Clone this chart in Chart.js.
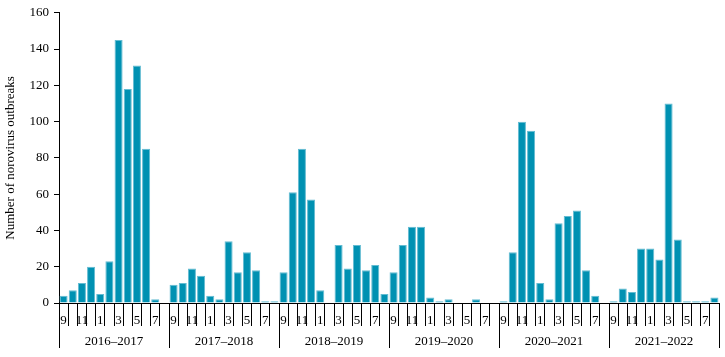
<!DOCTYPE html>
<html>
<head>
<meta charset="utf-8">
<script src="https://cdn.jsdelivr.net/npm/chart.js@4"></script>
<style>
  html, body { margin: 0; padding: 0; background: #fff; }
  #wrap { width: 725px; height: 357px; }
</style>
</head>
<body>
<div id="wrap"><canvas id="chart"></canvas></div>
<script>
// months of a season, Sep -> Aug
const months = [9, 10, 11, 12, 1, 2, 3, 4, 5, 6, 7, 8];
const seasons = ['2016–2017', '2017–2018', '2018–2019', '2019–2020', '2020–2021', '2021–2022'];

// outbreaks per month
const s2016 = [4, 7, 11, 20, 5, 23, 145, 118, 131, 85, 2, 0];
const s2017 = [10, 11, 19, 15, 4, 2, 34, 17, 28, 18, 1, 1];
const s2018 = [17, 61, 85, 57, 7, 0, 32, 19, 32, 18, 21, 5];
const s2019 = [17, 32, 42, 42, 3, 1, 2, 0, 0, 2, 0, 0];
const s2020 = [1, 28, 100, 95, 11, 2, 44, 48, 51, 18, 4, 0];
const s2021 = [1, 8, 6, 30, 30, 24, 110, 35, 1, 1, 1, 3];

const yTicks = [0, 20, 40, 60, 80, 100, 120, 140, 160];

var labels = [];
seasons.forEach(() => { months.forEach(m => labels.push(String(m))); });
var values = [].concat(s2016, s2017, s2018, s2019, s2020, s2021);

const serif = 'Liberation Serif, "Times New Roman", serif';

var chart = new Chart(document.getElementById('chart'), {
    type: 'bar',
    data: {
        labels: labels,
        datasets: [{
            data: values,
            backgroundColor: '#0091b2',
            borderColor: '#63bcd2',
            borderWidth: 1,
            barPercentage: 0.88,
            categoryPercentage: 1.0
        }]
    },
    options: {
        responsive: true,
        maintainAspectRatio: false,
        animation: false,
        layout: { padding: { top: 10, right: 6, left: 0, bottom: 0 } },
        plugins: { legend: { display: false }, tooltip: { enabled: false } },
        scales: {
            x: {
                position: 'bottom',
                offset: true,
                grid: { offset: true, drawOnChartArea: false, tickLength: 23, color: '#000', lineWidth: 1 },
                border: { display: true, color: '#000', width: 1 },
                ticks: {
                    autoSkip: false, maxRotation: 0, minRotation: 0,
                    padding: -13,
                    color: '#000',
                    font: { family: serif, size: 13 },
                    callback: function (val, i) {
                        var m = months[i % 12];
                        return (m % 2 === 1) ? String(m) : '';
                    }
                },
                afterFit: function (scale) { scale.height = 23; }
            },
            x2: {
                type: 'category',
                position: 'bottom',
                labels: seasons,
                offset: true,
                grid: { offset: true, drawOnChartArea: false, tickLength: 22, color: '#000', lineWidth: 1 },
                border: { display: false },
                ticks: {
                    autoSkip: false, maxRotation: 0, minRotation: 0,
                    padding: -14,
                    color: '#000',
                    font: { family: serif, size: 13 }
                },
                afterFit: function (scale) { scale.height = 31; }
            },
            y: {
                min: 0,
                max: 160,
                afterBuildTicks: function (scale) { scale.ticks = yTicks.map(v => ({ value: v })); },
                grid: { drawOnChartArea: false, tickLength: 5, color: '#000' },
                border: { display: true, color: '#000', width: 1 },
                ticks: { padding: 5, color: '#000', font: { family: serif, size: 13 } },
                title: {
                    display: true,
                    text: 'Number of norovirus outbreaks',
                    color: '#000',
                    font: { family: serif, size: 13 },
                    padding: { top: 3, bottom: 0 }
                },
                afterFit: function (scale) { scale.width = 59; }
            }
        }
    }
});
</script>
</body>
</html>
